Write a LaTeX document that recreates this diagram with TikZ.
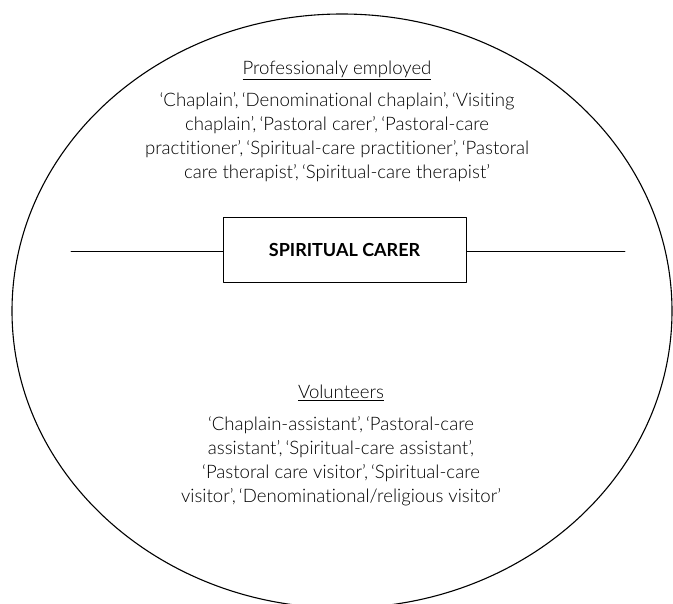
\documentclass[tikz,border=0pt]{standalone}
\usepackage{fontspec}
\setmainfont{Lato Light}[BoldFont=Lato Bold, Ligatures=NoCommon]
\usetikzlibrary{positioning}
\tikzset{
  carerbox/.style={draw, line width=0.9pt, minimum width=243pt, minimum height=65pt, inner sep=0pt, font=\fontsize{18}{22}\selectfont\bfseries},
  grouptitle/.style={anchor=base, font=\fontsize{18.6}{24}\selectfont},
  grouplist/.style={anchor=north, align=center, inner sep=0pt, font=\fontsize{18.6}{24}\selectfont}
}
\begin{document}
\begin{tikzpicture}[x=1pt, y=-1pt, line join=round, line cap=round]
	\useasboundingbox (0,0) rectangle (673,604);
	% outer ellipse
	\draw[line width=1.1pt] (342,311) ellipse [x radius=330, y radius=297];
	% central box and its arms
	\node[carerbox] (carer) at (344.5,249.5) {SPIRITUAL CARER};
	\coordinate (armL) at (71,251);
	\coordinate (armR) at (625,251);
	\draw[line width=0.9pt] (carer.west |- armL) -- (armL);
	\draw[line width=0.9pt] (carer.east |- armR) -- (armR);
	% upper group
	\node[grouptitle] (proftitle) at (337,75) {\underline{Professionaly employed}};
	\node[grouplist, below=17pt of proftitle.base] (proflist) {%
		‘Chaplain’,\,‘Denominational chaplain’,\,‘Visiting\\
		chaplain’,\,‘Pastoral carer’,\,‘Pastoral-care\\
		practitioner’,\,‘Spiritual-care practitioner’,\,‘Pastoral\\
		care therapist’,\,‘Spiritual-care therapist’};
	% lower group
	\node[grouptitle] (voltitle) at (341,399) {\underline{Volunteers}};
	\node[grouplist, below=17pt of voltitle.base] (vollist) {%
		‘Chaplain-assistant’,\,‘Pastoral-care\\
		assistant’,\,‘Spiritual-care assistant’,\\
		‘Pastoral care visitor’,\,‘Spiritual-care\\
		visitor’,\,‘Denominational/religious visitor’};
\end{tikzpicture}
\end{document}
